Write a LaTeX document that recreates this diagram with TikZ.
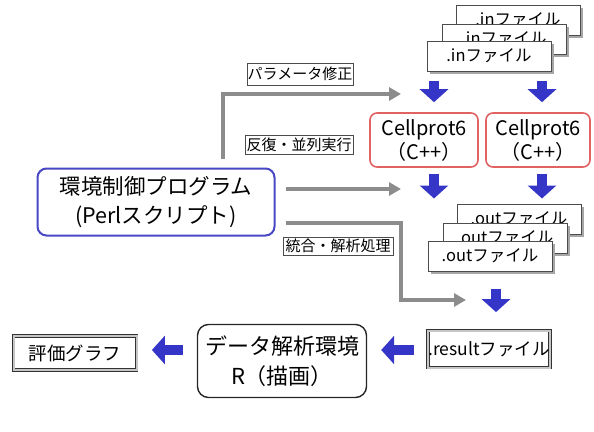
\documentclass[tikz,border=0pt]{standalone}
\usepackage{fontspec}
\setmainfont{Noto Sans CJK JP}
\usetikzlibrary{arrows.meta,shadows}
\definecolor{arrowblue}{HTML}{3535C8}
\definecolor{arrowgray}{HTML}{8C8C8C}
\definecolor{boxred}{HTML}{E06262}
\definecolor{boxblue}{HTML}{4848C4}
\tikzset{
  filebox/.style={draw=gray!60!black, line width=1pt, fill=white,
    minimum width=124pt, minimum height=30pt, inner sep=0pt,
    font=\fontsize{16.5}{18}\selectfont,
    drop shadow={shadow xshift=2.5pt, shadow yshift=-2.5pt, fill=gray!70, opacity=1}},
  labelbox/.style={draw=gray!60!black, line width=0.7pt, fill=white,
    inner sep=0pt, font=\fontsize{15}{17}\selectfont},
  cppbox/.style={draw=boxred, line width=1.6pt, rounded corners=7pt, fill=white,
    minimum height=54pt, inner sep=0pt, align=center,
    font=\fontsize{20}{24}\selectfont},
  frambox/.style={draw=gray!40!black, line width=0.8pt, double=gray!45,
    double distance=2pt, fill=white, inner sep=0pt},
  blockarrow/.style={draw=arrowblue, line width=10pt,
    -{Triangle[length=13pt,width=28pt]}},
  grayarrow/.style={draw=arrowgray, line width=4pt,
    -{Triangle[length=12pt,width=13pt]}},
}
\begin{document}
\begin{tikzpicture}[x=1pt,y=-1pt]
\useasboundingbox (0,0) rectangle (594,431);

% .in files
\node[filebox] (in3) at (518,20) {.inファイル};
\node[filebox] (in2) at (504,39) {.inファイル};
\node[filebox] (in1) at (489,56) {.inファイル};

% Cellprot boxes
\node[cppbox, minimum width=108pt] (cp1) at (424,140) {Cellprot6\\（C++）};
\node[cppbox, minimum width=104pt] (cp2) at (538,140) {Cellprot6\\（C++）};

% .out files
\node[filebox] (out3) at (519,219) {.outファイル};
\node[filebox] (out2) at (505,238) {.outファイル};
\node[filebox] (out1) at (490,256) {.outファイル};

% result and analysis
\node[frambox, minimum width=122pt, minimum height=37pt,
  font=\fontsize{17.5}{19}\selectfont] (res) at (489,349) {.resultファイル};
\node[draw=gray!30!black, line width=1.4pt, rounded corners=11pt, fill=white,
  minimum width=169pt, minimum height=73pt, inner sep=0pt, align=center,
  font=\fontsize{22}{30}\selectfont] (rbox) at (282,361) {データ解析環境\\R（描画）};
\node[frambox, minimum width=123pt, minimum height=34pt,
  font=\fontsize{18.5}{20}\selectfont] (graph) at (75,353) {評価グラフ};

% control program
\node[draw=boxblue, line width=2pt, rounded corners=9pt, fill=white,
  minimum width=237pt, minimum height=67pt, inner sep=0pt, align=center,
  font=\fontsize{21.5}{29}\selectfont] (perl) at (156,202) {環境制御プログラム\\(Perlスクリプト)};

% labels
\node[labelbox, minimum width=106pt, minimum height=22pt] (lab1) at (300,74) {パラメータ修正};
\node[labelbox, minimum width=108pt, minimum height=19pt] (lab2) at (299,145) {反復・並列実行};
\node[labelbox, minimum width=110pt, minimum height=18pt] (lab3) at (338,246) {統合・解析処理};

% coordinates for arrow columns
\coordinate (ca) at (434,0);
\coordinate (cb) at (542,0);
\coordinate (cc) at (496,0);
\coordinate (g1) at (223,94);
\coordinate (g1e) at (401,94);
\coordinate (g2) at (285,189);
\coordinate (g2e) at (401,189);
\coordinate (g3) at (401,223);
\coordinate (g3e) at (466,300);

% blue arrows
\draw[blockarrow, shorten <=9pt, shorten >=10pt] (in1.south -| ca) -- (cp1.north -| ca);
\draw[blockarrow, shorten <=9pt, shorten >=10pt] (in1.south -| cb) -- (cp2.north -| cb);
\draw[blockarrow, shorten <=6pt, shorten >=5pt] (cp1.south -| ca) -- (out3.north -| ca);
\draw[blockarrow, shorten <=6pt, shorten >=5pt] (cp2.south -| cb) -- (out3.north -| cb);
\draw[blockarrow, shorten <=17pt, shorten >=18pt] (out1.south -| cc) -- (res.north -| cc);
\draw[blockarrow, shorten <=14pt, shorten >=14pt] (res.west |- 0,350) -- (rbox.east |- 0,350);
\draw[blockarrow, shorten <=14pt, shorten >=15pt] (rbox.west |- 0,350) -- (graph.east |- 0,350);

% gray arrows
\draw[grayarrow, shorten <=9pt] (perl.north -| g1) |- (g1e);
\draw[grayarrow, shorten <=10pt] (perl.east |- g2) -- (g2e);
\draw[grayarrow, shorten <=10pt] (perl.east |- g3) -- (g3) |- (g3e);
\end{tikzpicture}
\end{document}
